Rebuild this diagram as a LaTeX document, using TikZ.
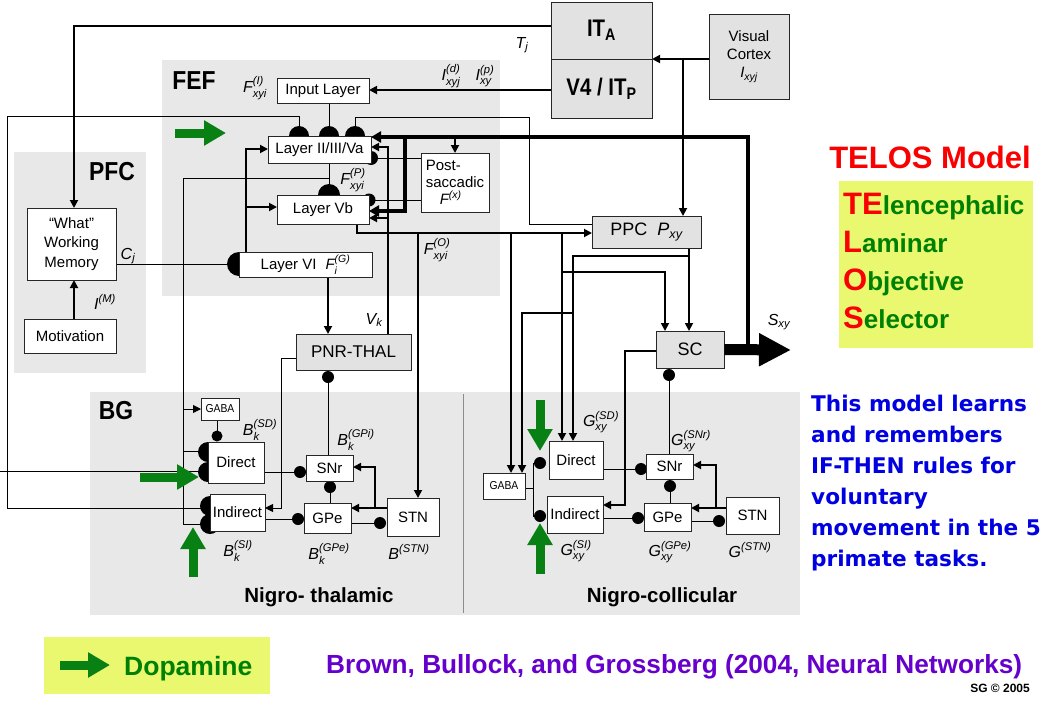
\documentclass[tikz,border=0pt]{standalone}
\usepackage{fontspec}
\usepackage{amsmath}
\usepackage{graphicx}
\setmainfont{Liberation Sans}
\newfontfamily\verd{DejaVu Sans}
\usetikzlibrary{arrows.meta,calc}
\pgfdeclarelayer{back}
\pgfdeclarelayer{wires}
\pgfsetlayers{back,wires,main}

\definecolor{areagray}{RGB}{232,232,232}
\definecolor{boxgray}{RGB}{226,226,226}
\definecolor{dopagreen}{RGB}{8,128,20}
\definecolor{hilite}{RGB}{234,248,112}
\definecolor{telred}{RGB}{250,0,0}
\definecolor{telgreen}{RGB}{0,128,0}
\definecolor{noteblue}{RGB}{0,0,225}
\definecolor{citepurple}{RGB}{102,0,204}

\newcommand{\fsz}[1]{\fontsize{#1}{#1}\selectfont}
% italic variable with superscript and subscript
\newcommand{\vlab}[3]{\ensuremath{\text{\itshape #1}^{\text{\itshape #2}}_{\text{\itshape #3}}}}
\newcommand{\slab}[2]{\ensuremath{\text{\itshape #1}_{\text{\itshape #2}}}}
\newcommand{\plab}[2]{\ensuremath{\text{\itshape #1}^{\text{\itshape #2}}}}

\tikzset{
  unit/.style={draw=black!85, line width=0.9pt, fill=white, inner sep=0pt,
    font=\fsz{15}, align=center},
  gunit/.style={unit, fill=boxgray},
  wire1/.style={line width=0.9pt},
  wire2/.style={line width=1.8pt},
  wire3/.style={line width=3.8pt},
  tip/.style={-{Triangle[length=8pt,width=8pt]}},
  bigtip/.style={-{Triangle[length=10pt,width=11pt]}},
  lab/.style={font=\fsz{16}, inner sep=0pt},
  dopa/.style={draw=dopagreen, line width=9pt, -{Triangle[length=22pt,width=24pt]}},
  area/.style={font=\bfseries\fsz{26}, inner sep=0pt},
}

\begin{document}
\begin{tikzpicture}[x=1pt,y=-1pt]
\useasboundingbox (0,0) rectangle (1059,704);

% ---------- shaded areas ----------
\begin{pgfonlayer}{back}
  \fill[areagray] (162,60) rectangle (500,296);
  \fill[areagray] (14,152) rectangle (146,373);
  \fill[areagray] (90,392) rectangle (800,615);
  \draw[black!45, line width=1pt] (463,394) -- (463,613);
\end{pgfonlayer}

\node[area] at (194,81) {\scalebox{0.88}[1]{FEF}};
\node[area] at (112,172) {\scalebox{0.88}[1]{PFC}};
\node[area] at (116,411) {\scalebox{0.88}[1]{BG}};

% ---------- units ----------
\node[gunit, minimum width=101pt, minimum height=57pt, font=\bfseries\fsz{24}] (ITA) at (601.5,30.5) {\scalebox{0.85}[1]{IT\textsubscript{A}}};
\node[gunit, minimum width=101pt, minimum height=59pt, font=\bfseries\fsz{24}] (V4) at (601.5,88.5) {\scalebox{0.85}[1]{V4 / IT\textsubscript{P}}};
\node[gunit, minimum width=80pt, minimum height=85pt, font=\fontsize{15}{18}\selectfont] (VC) at (749,56.5) {Visual\\Cortex\\\slab{I}{xyj}};

\node[unit, minimum width=92pt, minimum height=25pt] (Input) at (323,90.5) {Input Layer};
\node[unit, minimum width=103pt, minimum height=27pt] (L23) at (319.5,149.5) {Layer II/III/Va};
\node[unit, minimum width=68pt, minimum height=59pt, align=left, font=\fontsize{15}{17}\selectfont] (Post) at (455,182.5) {Post-\\saccadic\\\hspace*{14pt}\plab{F}{(x)}};
\node[unit, minimum width=92pt, minimum height=29pt] (L5b) at (323,209.5) {Layer Vb};
\node[unit, minimum width=133pt, minimum height=25pt] (L6) at (305.5,264.5) {Layer VI\hspace{9pt}\vlab{F}{(G)}{i}};

\node[gunit, minimum width=109pt, minimum height=32pt, font=\fsz{18}] (PPC) at (646.5,232) {PPC\hspace{10pt}\slab{P}{xy}};
\node[gunit, minimum width=115pt, minimum height=36pt, font=\fsz{17}] (PNR) at (353.5,352) {PNR-THAL};
\node[gunit, minimum width=68pt, minimum height=37pt, font=\fsz{18}] (SC) at (690,349.5) {SC};

\node[unit, minimum width=89pt, minimum height=72pt, font=\fontsize{15}{19.5}\selectfont] (WM) at (71.5,244) {``What''\\Working\\Memory};
\node[unit, minimum width=92pt, minimum height=34pt] (Mot) at (70,336) {Motivation};

% nigro-thalamic loop
\node[unit, minimum width=38pt, minimum height=22pt, font=\fsz{11.5}] (GABA1) at (220,409) {\scalebox{0.9}[1]{GABA}};
\node[unit, minimum width=56pt, minimum height=41pt] (Dir1) at (236,462.5) {Direct};
\node[unit, minimum width=55pt, minimum height=37pt] (Ind1) at (237.5,512.5) {Indirect};
\node[unit, minimum width=47pt, minimum height=26pt] (SNr1) at (329.5,468) {SNr};
\node[unit, minimum width=47pt, minimum height=30pt] (GPe1) at (327.5,518) {GPe};
\node[unit, minimum width=52pt, minimum height=38pt] (STN1) at (413,517) {STN};

% nigro-collicular loop
\node[unit, minimum width=42pt, minimum height=26pt, font=\fsz{11.5}] (GABA2) at (504,486) {\scalebox{0.9}[1]{GABA}};
\node[unit, minimum width=54pt, minimum height=38pt] (Dir2) at (576,460) {Direct};
\node[unit, minimum width=56pt, minimum height=37pt] (Ind2) at (575,514.5) {Indirect};
\node[unit, minimum width=47pt, minimum height=25pt] (SNr2) at (669.5,466.5) {SNr};
\node[unit, minimum width=47pt, minimum height=28pt] (GPe2) at (667.5,517) {GPe};
\node[unit, minimum width=53pt, minimum height=37pt] (STN2) at (752.5,515.5) {STN};

% ---------- connections ----------
\begin{pgfonlayer}{wires}
  % object category and visual input
  \draw[wire2,tip] (551,26) -- (74,26) -- (74,208);
  \draw[wire2,tip] (709,59) -- (652,59);
  \draw[wire2,tip] (683,59) -- (683,216);
  \draw[wire2,tip] (551,90) -- (369,90);
  \draw[wire2,tip] (Mot.north -| 74,0) -- (74,280);

  % inputs onto layer II/III/Va
  \draw[wire1] (7,508) -- (7,116) -- (299,116) -- (299,136);
  \draw[wire1] (7,508) -- (210,508);
  \draw[wire1] (0,471) -- (208,471);
  \draw[wire1] (329,103) -- (329,136);
  \draw[wire1] (592,224) -- (529,224) -- (529,117) -- (355,117) -- (355,136);
  \fill (299,136) circle (10pt) (329,136) circle (10pt) (355,136) circle (10pt);

  % saccade output feedback
  \draw[wire3,bigtip] (748,350) -- (748,137) -- (371,137);
  \draw[wire2,tip] (455,137) -- (455,153);
  \draw[wire3,bigtip] (405,137) -- (405,211) -- (369,211);

  % thalamic feedback V_k
  \draw[wire2,tip] (388,334) -- (388,147) -- (371,147);
  \draw[wire2,tip] (388,218) -- (369,218);

  % post-saccadic inhibition
  \draw[wire1] (421,158) -- (371,158);
  \draw[wire1] (421,200) -- (369,200);
  \fill (371,158) circle (7pt) (369,200) circle (6.5pt);

  % layer II/III to layer Vb and striatum
  \draw[wire1] (329,163) -- (329,195);
  \fill (329,195) circle (11pt);
  \draw[wire1] (329,178) -- (183,178) -- (183,524) -- (210,524);
  \draw[wire1,tip] (183,409) -- (201,409);
  \draw[wire1] (183,451) -- (208,451);
  \fill (208,452) circle (10pt) (208,472) circle (10pt);
  \fill (210,506) circle (10pt) (210,524) circle (10pt);

  % layer VI gating
  \draw[wire2,tip] (246,252) -- (246,149) -- (268,149);
  \draw[wire2,tip] (246,207) -- (277,207);
  \draw[wire1] (WM.east |- 0,264) -- (239,264);
  \fill (239,264) circle (12pt);
  \draw[wire2,tip] (328,277) -- (328,334);

  % layer Vb output F^(O)
  \draw[wire2,tip] (357,224) -- (357,233) -- (592,233);
  \draw[wire2,tip] (418,233) -- (418,498);
  \draw[wire2,tip] (511,233) -- (511,473);
  \draw[wire2,tip] (562,233) -- (562,441);
  \draw[wire2,tip] (562,272) -- (665,272) -- (665,331);

  % PPC output
  \draw[wire2,tip] (689,248) -- (689,331);
  \draw[wire2,tip] (689,256) -- (573,256) -- (573,441);
  \draw[wire2,tip] (573,313) -- (522,313) -- (522,473);

  % SC and PNR-THAL to indirect striatum
  \draw[wire2,tip] (656,351) -- (625,351) -- (625,505) -- (603,505);
  \draw[wire1,tip] (296,358) -- (281,358) -- (281,508) -- (265,508);

  % SNr inhibition of targets
  \draw[wire1] (669,454) -- (669,375);
  \fill (669,375) circle (6pt);
  \draw[wire1] (328,455) -- (328,377);
  \fill (328,377) circle (6pt);

  % nigro-thalamic loop wiring
  \draw[wire1] (217,420) -- (217,436);
  \fill (217,436) circle (5.5pt);
  \draw[wire1] (264,472) -- (300,472);
  \fill (300,472) circle (6pt);
  \draw[wire1] (330,481) -- (330,503);
  \fill (330,487) circle (6pt);
  \draw[wire1] (265,519) -- (298,519);
  \fill (298,519) circle (6pt);
  \draw[wire2,tip] (387,508) -- (351,508);
  \draw[wire2,tip] (375,508) -- (375,467) -- (353,467);
  \draw[wire1] (351,523) -- (380,523);
  \fill (380,523) circle (6pt);

  % nigro-collicular loop wiring
  \draw[wire1] (525,488) -- (533,488);
  \draw[wire1] (540,463) -- (533,463) -- (533,516) -- (540,516);
  \fill (540,463) circle (6pt) (540,516) circle (6pt);
  \draw[wire1] (603,469) -- (641,469);
  \fill (641,469) circle (6pt);
  \draw[wire1] (670,479) -- (670,503);
  \fill (670,486) circle (6pt);
  \draw[wire1] (603,518) -- (638,518);
  \fill (638,518) circle (6pt);
  \draw[wire2,tip] (726,508) -- (691,508);
  \draw[wire2,tip] (716,508) -- (716,465) -- (693,465);
  \draw[wire1] (691,521) -- (719,521);
  \fill (719,521) circle (6pt);
\end{pgfonlayer}

% saccade command output
\draw[line width=11pt, -{Triangle[length=32pt,width=31pt]}] (SC.east) -- (791,350);

% dopamine signals
\draw[dopa] (175,133) -- (226,133);
\draw[dopa] (140,477) -- (199,477);
\draw[dopa] (193,577) -- (193,527);
\draw[dopa] (540,400) -- (540,451);
\draw[dopa] (540,574) -- (540,523);

% ---------- variable labels ----------
\node[lab] at (522,45) {\slab{T}{j}};
\node[lab] at (451,76) {\vlab{I}{(d)}{xyj}};
\node[lab] at (485,76) {\vlab{I}{(p)}{xy}};
\node[lab] at (255,88) {\vlab{F}{(I)}{xyi}};
\node[lab] at (353,180) {\vlab{F}{(P)}{xyi}};
\node[lab] at (437,250) {\vlab{F}{(O)}{xyi}};
\node[lab] at (128,256) {\slab{C}{j}};
\node[lab] at (105,302) {\plab{I}{(M)}};
\node[lab] at (374,320) {\slab{V}{k}};
\node[lab] at (779,322) {\slab{S}{xy}};

\node[lab] at (260,430) {\vlab{B}{(SD)}{k}};
\node[lab] at (356,440) {\vlab{B}{(GPi)}{k}};
\node[lab] at (238,551) {\vlab{B}{(SI)}{k}};
\node[lab] at (329,554) {\vlab{B}{(GPe)}{k}};
\node[lab] at (409,552) {\plab{B}{(STN)}};

\node[lab] at (601,422) {\vlab{G}{(SD)}{xy}};
\node[lab] at (691,441) {\vlab{G}{(SNr)}{xy}};
\node[lab] at (576,551) {\vlab{G}{(SI)}{xy}};
\node[lab] at (670,552) {\vlab{G}{(GPe)}{xy}};
\node[lab] at (750,550) {\plab{G}{(STN)}};

\node[font=\bfseries\fsz{20.5}, inner sep=0] at (319,597) {Nigro- thalamic};
\node[font=\bfseries\fsz{20.5}, inner sep=0] at (662,597) {Nigro-collicular};

% ---------- model name ----------
\node[font=\bfseries\fsz{31}, text=telred, inner sep=0] at (930,157) {TELOS Model};
\fill[hilite] (839,181) rectangle (1033,348);
\node[anchor=base west, inner sep=0, font=\bfseries] at (843,214) {\fsz{31}\color{telred}TE\fsz{26}\color{telgreen}lencephalic};
\node[anchor=base west, inner sep=0, font=\bfseries] at (843,252) {\fsz{31}\color{telred}L\fsz{26}\color{telgreen}aminar};
\node[anchor=base west, inner sep=0, font=\bfseries] at (843,290) {\fsz{31}\color{telred}O\fsz{26}\color{telgreen}bjective};
\node[anchor=base west, inner sep=0, font=\bfseries] at (843,328) {\fsz{31}\color{telred}S\fsz{26}\color{telgreen}elector};

\begin{scope}[every node/.style={anchor=base west, inner sep=0, text=noteblue, font=\verd\bfseries\fsz{21.6}}]
  \node at (811,411) {This model learns};
  \node at (811,442) {and remembers};
  \node at (811,473) {IF-THEN rules for};
  \node at (811,504) {voluntary};
  \node at (811,535) {movement in the 5};
  \node at (811,566) {primate tasks.};
\end{scope}

% ---------- legend and citation ----------
\fill[hilite] (44,637) rectangle (270,694);
\draw[dopa] (60,665) -- (110,665);
\node[anchor=base west, inner sep=0, font=\bfseries\fsz{26.5}, text=telgreen] at (124,675) {Dopamine};
\node[anchor=base west, inner sep=0, font=\bfseries\fsz{26.2}, text=citepurple] at (326,673) {Brown, Bullock, and Grossberg (2004, Neural Networks)};
\node[anchor=base east, inner sep=0, font=\bfseries\fsz{12}] at (1030,692) {SG \textcopyright{} 2005};
\end{tikzpicture}
\end{document}
